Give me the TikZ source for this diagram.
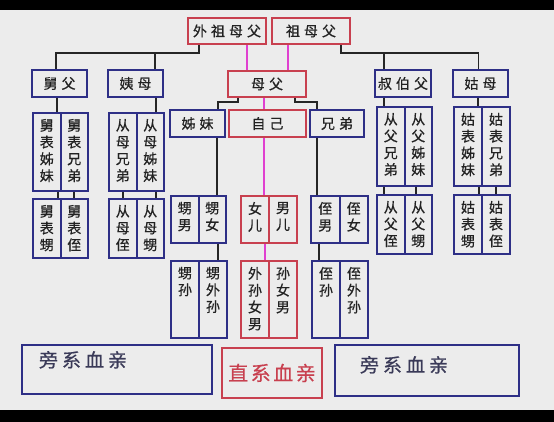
\documentclass[tikz,border=0pt]{standalone}
\usepackage{fontspec}
\newfontfamily\cjk[FakeBold=0.6]{Noto Sans CJK SC}
\definecolor{kinblue}{HTML}{2E2F86}
\definecolor{kinred}{HTML}{C8404F}
\definecolor{kinpink}{HTML}{E040D0}
\definecolor{paper}{HTML}{ECECEC}
\definecolor{ink}{HTML}{222222}
\definecolor{sideink}{HTML}{3A3A58}
\newcommand{\gp}{\hspace{4pt}}
\newcommand{\vcol}[2]{\parbox[c][#1][t]{16pt}{\centering\vspace*{5pt}#2}}

\begin{document}
\begin{tikzpicture}[x=1pt,y=-1pt,
  box/.style={line width=2pt,fill=paper,inner sep=0pt,minimum height=26pt,
    text=ink,font=\cjk\fontsize{14}{16.8}\selectfont},
  rbox/.style={box,draw=kinred},
  bbox/.style={box,draw=kinblue},
  rcell/.style={rbox,anchor=north west},
  bcell/.style={bbox,anchor=north west},
  link/.style={line width=1.8pt,draw=black!85},
  blood/.style={line width=1.6pt,draw=kinpink}]
  % page: grey sheet with black bars top and bottom
  \useasboundingbox (0,0) rectangle (554,422);
  \fill[paper] (0,0) rectangle (554,422);
  \fill[black] (0,0) rectangle (554,10);
  \fill[black] (0,410) rectangle (554,422);
  % grandparents, parents, self
  \node[rbox,minimum width=78pt] (wzmf) at (227,31) {外\gp{}祖\gp{}母\gp{}父};
  \node[rbox,minimum width=78pt] (zmf) at (311,31) {祖\gp{}母\gp{}父};
  \node[rbox,minimum width=78pt] (mf) at (267,84) {母\gp{}父};
  \node[rbox,minimum width=77pt,minimum height=27pt] (zj) at (267.5,123.5) {自\gp{}己};
  % uncles and aunts
  \node[bbox,minimum width=55pt,minimum height=27pt] (jf) at (59.5,83.5) {舅\gp{}父};
  \node[bbox,minimum width=55pt,minimum height=27pt] (ym) at (135.5,83.5) {姨\gp{}母};
  \node[bbox,minimum width=56pt,minimum height=27pt] (sbf) at (403,83.5) {叔\gp{}伯\gp{}父};
  \node[bbox,minimum width=55pt,minimum height=27pt] (gm) at (480.5,83.5) {姑\gp{}母};
  % siblings
  \node[bbox,minimum width=55pt,minimum height=27pt] (zm) at (197.5,123.5) {姊\gp{}妹};
  \node[bbox,minimum width=54pt,minimum height=27pt] (xd) at (337,123.5) {兄\gp{}弟};
  % cousins and their children, left side
  \node[bcell,minimum width=27.5pt,minimum height=78pt] (jb1) at (32,112) {\vcol{76pt}{舅\\表\\姊\\妹}};
  \node[bcell,minimum width=27.5pt,minimum height=78pt] (jb2) at (59.5,112) {\vcol{76pt}{舅\\表\\兄\\弟}};
  \node[bcell,minimum width=27.5pt,minimum height=59pt] (jb3) at (32,198) {\vcol{57pt}{舅\\表\\甥}};
  \node[bcell,minimum width=27.5pt,minimum height=59pt] (jb4) at (59.5,198) {\vcol{57pt}{舅\\表\\侄}};
  \node[bcell,minimum width=27.5pt,minimum height=78pt] (cm1) at (108,112) {\vcol{76pt}{从\\母\\兄\\弟}};
  \node[bcell,minimum width=27.5pt,minimum height=78pt] (cm2) at (135.5,112) {\vcol{76pt}{从\\母\\姊\\妹}};
  \node[bcell,minimum width=27.5pt,minimum height=59pt] (cm3) at (108,198) {\vcol{57pt}{从\\母\\侄}};
  \node[bcell,minimum width=27.5pt,minimum height=59pt] (cm4) at (135.5,198) {\vcol{57pt}{从\\母\\甥}};
  % cousins and their children, right side
  \node[bcell,minimum width=27.5pt,minimum height=79pt] (cf1) at (376,106) {\vcol{77pt}{从\\父\\兄\\弟}};
  \node[bcell,minimum width=27.5pt,minimum height=79pt] (cf2) at (403.5,106) {\vcol{77pt}{从\\父\\姊\\妹}};
  \node[bcell,minimum width=27.5pt,minimum height=59pt] (cf3) at (376,194) {\vcol{57pt}{从\\父\\侄}};
  \node[bcell,minimum width=27.5pt,minimum height=59pt] (cf4) at (403.5,194) {\vcol{57pt}{从\\父\\甥}};
  \node[bcell,minimum width=28pt,minimum height=79pt] (gb1) at (453,106) {\vcol{77pt}{姑\\表\\姊\\妹}};
  \node[bcell,minimum width=28pt,minimum height=79pt] (gb2) at (481,106) {\vcol{77pt}{姑\\表\\兄\\弟}};
  \node[bcell,minimum width=28pt,minimum height=59pt] (gb3) at (453,194) {\vcol{57pt}{姑\\表\\甥}};
  \node[bcell,minimum width=28pt,minimum height=59pt] (gb4) at (481,194) {\vcol{57pt}{姑\\表\\侄}};
  % children and grandchildren
  \node[bcell,minimum width=27.5pt,minimum height=47pt] (wn1) at (170,195) {\vcol{45pt}{甥\\男}};
  \node[bcell,minimum width=27.5pt,minimum height=47pt] (wn2) at (197.5,195) {\vcol{45pt}{甥\\女}};
  \node[rcell,minimum width=28pt,minimum height=47pt] (ne1) at (240,195) {\vcol{45pt}{女\\儿}};
  \node[rcell,minimum width=28pt,minimum height=47pt] (ne2) at (268,195) {\vcol{45pt}{男\\儿}};
  \node[bcell,minimum width=28.5pt,minimum height=47pt] (zn1) at (310,195) {\vcol{45pt}{侄\\男}};
  \node[bcell,minimum width=28.5pt,minimum height=47pt] (zn2) at (338.5,195) {\vcol{45pt}{侄\\女}};
  \node[bcell,minimum width=28pt,minimum height=77pt] (ws1) at (170,260) {\vcol{75pt}{甥\\孙}};
  \node[bcell,minimum width=28pt,minimum height=77pt] (ws2) at (198,260) {\vcol{75pt}{甥\\外\\孙}};
  \node[rcell,minimum width=28pt,minimum height=77pt] (sn1) at (240,260) {\vcol{75pt}{外\\孙\\女\\男}};
  \node[rcell,minimum width=28pt,minimum height=77pt] (sn2) at (268,260) {\vcol{75pt}{孙\\女\\男}};
  \node[bcell,minimum width=28pt,minimum height=77pt] (zs1) at (311,260) {\vcol{75pt}{侄\\孙}};
  \node[bcell,minimum width=28pt,minimum height=77pt] (zs2) at (339,260) {\vcol{75pt}{侄\\外\\孙}};
  % legend boxes
  \node[bcell,minimum width=190pt,minimum height=49pt,text=sideink,
    font=\cjk\fontsize{19}{22}\selectfont] (pxl) at (21,344)
    {\parbox[c][47pt][t]{186pt}{\vspace*{5pt}\hspace*{15pt}旁\gp{}系\gp{}血\gp{}亲}};
  \node[rbox,minimum width=100pt,minimum height=50pt,text=kinred,
    font=\cjk\fontsize{20}{24}\selectfont] (zxl) at (272,373) {直\hspace{2.5pt}系\hspace{2.5pt}血\hspace{2.5pt}亲};
  \node[bcell,minimum width=184pt,minimum height=51pt,text=sideink,
    font=\cjk\fontsize{19}{22}\selectfont] (pxr) at (334,344)
    {\parbox[c][49pt][t]{180pt}{\vspace*{10pt}\hspace*{23pt}旁\gp{}系\gp{}血\gp{}亲}};
  % grandparents to uncles and aunts
  \draw[link] ([xshift=-28pt]wzmf.south) -- ++(0,8) coordinate (lbus) -| ([xshift=-3.5pt]jf.north);
  \draw[link] (lbus) -| ([xshift=19.5pt]ym.north);
  \draw[link] ([xshift=30pt]zmf.south) -- ++(0,8) coordinate (rbus) -| ([xshift=-2pt]gm.north);
  \draw[link] (rbus) -| ([xshift=-19pt]sbf.north);
  % direct line
  \draw[blood] ([xshift=20pt]wzmf.south) -- ([xshift=20pt]wzmf.south |- mf.north);
  \draw[blood] ([xshift=-23pt]zmf.south) -- ([xshift=-23pt]zmf.south |- mf.north);
  \draw[blood] ([xshift=-3pt]mf.south) -- ([xshift=-3pt]mf.south |- zj.north);
  \draw[blood] ([xshift=-3.5pt]zj.south) -- ([xshift=-3.5pt]zj.south |- ne1.north);
  \draw[blood] ([xshift=10pt]ne1.south) -- ([xshift=10pt]ne1.south |- sn1.north);
  % parents to siblings, siblings down
  \draw[link] ([xshift=-29pt]mf.south) -- ++(0,4) -| ([xshift=20.5pt]zm.north);
  \draw[link] ([xshift=28pt]mf.south) -- ++(0,4) -| ([xshift=-20pt]xd.north);
  \draw[link] ([xshift=19.5pt]zm.south) -- ([xshift=19.5pt]zm.south |- wn2.north);
  \draw[link] ([xshift=6pt]wn2.south) -- ([xshift=6pt]wn2.south |- ws2.north);
  \draw[link] ([xshift=-20pt]xd.south) -- ([xshift=-20pt]xd.south |- zn1.north);
  \draw[link] ([xshift=-6pt]zn1.south) -- ([xshift=-6pt]zn1.south |- zs1.north);
  % uncles and aunts to cousins
  \draw[link] ([xshift=-2.5pt]jf.south) -- ([xshift=-2.5pt]jf.south |- jb1.north);
  \draw[link] ([xshift=20.5pt]ym.south) -- ([xshift=20.5pt]ym.south |- cm1.north);
  \draw[link] ([xshift=-19pt]sbf.south) -- ([xshift=-19pt]sbf.south |- cf1.north);
  \draw[link] ([xshift=-2.5pt]gm.south) -- ([xshift=-2.5pt]gm.south |- gb1.north);
  % cousins to their children
  \draw[link] ([xshift=11pt]jb1.south) -- ([xshift=11pt]jb1.south |- jb3.north);
  \draw[link] (jb2.south) -- (jb2.south |- jb4.north);
  \draw[link] (cm1.south) -- (cm1.south |- cm3.north);
  \draw[link] ([xshift=6pt]cm2.south) -- ([xshift=6pt]cm2.south |- cm4.north);
  \draw[link] ([xshift=-7pt]cf1.south) -- ([xshift=-7pt]cf1.south |- cf3.north);
  \draw[link] ([xshift=-2pt]cf2.south) -- ([xshift=-2pt]cf2.south |- cf4.north);
  \draw[link] ([xshift=11pt]gb1.south) -- ([xshift=11pt]gb1.south |- gb3.north);
  \draw[link] (gb2.south) -- (gb2.south |- gb4.north);
\end{tikzpicture}
\end{document}
